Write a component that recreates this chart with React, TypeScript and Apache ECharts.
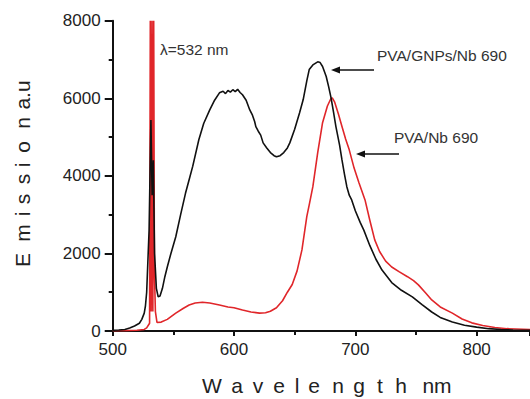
import React, { useEffect, useRef } from "react";
import * as echarts from "echarts";

// PVA/GNPs/Nb 690 (black)
const blackWl = [500, 505, 510, 514, 518, 522, 524, 526, 527, 528, 529, 530, 531.5, 532.5, 533.5, 534.5, 536, 537.5, 539, 541, 543, 545, 548, 552, 556, 560, 563, 566, 571, 575, 580, 584, 588, 591, 593, 595, 597, 599, 601, 603, 605, 607, 610, 613, 615, 617, 618, 620, 622, 624, 627, 630, 633, 635, 638, 641, 644, 646, 650, 654, 657, 660, 662, 665, 667, 669, 671, 673, 676, 678, 680, 682, 684, 687, 689, 691, 693, 695, 697, 700, 704, 707, 712, 717, 722, 730, 738, 747, 755, 763, 770, 780, 790, 800, 810, 820, 830, 844];
const blackVal = [20, 25, 40, 80, 130, 200, 300, 460, 650, 1000, 1800, 2600, 5440, 3500, 4400, 2000, 1100, 880, 900, 1100, 1400, 1650, 2000, 2430, 3000, 3550, 3900, 4250, 4930, 5350, 5700, 5950, 6140, 6180, 6120, 6200, 6160, 6220, 6170, 6230, 6150, 6090, 5950, 5700, 5580, 5400, 5270, 5150, 5050, 4850, 4720, 4600, 4520, 4490, 4520, 4600, 4720, 4850, 5200, 5620, 5960, 6450, 6740, 6860, 6900, 6940, 6920, 6820, 6560, 6300, 6010, 5650, 5270, 4800, 4410, 4050, 3720, 3500, 3380, 3100, 2800, 2600, 2200, 1850, 1570, 1250, 1050, 880, 680, 490, 350, 230, 150, 100, 60, 40, 25, 15];

// PVA/Nb 690 (red); the 532 nm laser line is saturated at the top of the scale
const redWl = [500, 510, 520, 526, 528, 530.4, 531.0, 531.7, 532.4, 533.1, 533.8, 534.4, 535.2, 536.5, 540, 545, 552, 558, 563, 568, 574, 580, 588, 595, 600, 607, 614, 621, 626, 630, 635, 640, 644, 648, 652, 656, 660, 662, 665, 669, 673, 677, 680, 681, 683, 686, 689, 692, 695, 699, 703, 708, 712, 716, 720, 725, 730, 736, 743, 748, 752, 758, 763, 770, 780, 788, 796, 805, 815, 825, 844];
const redVal = [5, 10, 20, 40, 80, 200, 8000, 500, 8000, 500, 8000, 1500, 500, 220, 230, 300, 460, 580, 670, 720, 740, 720, 670, 620, 600, 540, 490, 460, 470, 510, 600, 780, 1000, 1200, 1550, 2090, 2950, 3250, 3720, 4600, 5370, 5800, 6000, 6010, 5900, 5600, 5270, 4950, 4670, 4200, 3820, 3380, 2850, 2350, 2050, 1800, 1650, 1530, 1400, 1300, 1190, 980, 800, 620, 460, 310, 210, 140, 90, 60, 40];

const xTicks = [500, 600, 700, 800];
const yTicks = [0, 2000, 4000, 6000, 8000];

const xName = ["W", "a", "v", "e", "l", "e", "n", "g", "t", "h", "nm"];
const yName = ["E", "m", "i", "s", "s", "i", "o", "n", "a.u"];

const FONT = "'Liberation Sans', Arial, sans-serif";

export default function App() {
  const ref = useRef<HTMLDivElement>(null);
  useEffect(() => {
    if (!ref.current) return;
    const chart = echarts.init(ref.current, undefined, { renderer: "svg" });
    const zip = (a: number[], b: number[]) => a.map((v, i) => [v, b[i]]);
    const xNameX = [212, 237, 258, 279, 297, 314, 338, 359, 380, 401, 437];
    const yNameY = [260, 233, 214, 199, 179, 165, 147, 123, 95];
    const nameStyle = { fontSize: 21, fill: "#222", fontFamily: FONT, align: "center", verticalAlign: "middle" };
    chart.setOption({
      animation: false,
      backgroundColor: "#ffffff",
      grid: { left: 112.7, right: 0, top: 20.7, bottom: 68 },
      xAxis: {
        type: "value",
        min: xTicks[0],
        max: 844,
        interval: 100,
        axisLine: { show: true, onZero: false, lineStyle: { color: "#111", width: 2 } },
        axisTick: { show: true, inside: false, length: 5, lineStyle: { color: "#111", width: 2 } },
        minorTick: { show: true, splitNumber: 2, length: 4, lineStyle: { color: "#111", width: 2 } },
        splitLine: { show: false },
        axisLabel: {
          fontSize: 17,
          color: "#222",
          fontFamily: FONT,
          margin: 10,
          showMaxLabel: false,
          formatter: (v: number) => (xTicks.includes(v) ? String(v) : ""),
        },
      },
      yAxis: {
        type: "value",
        min: yTicks[0],
        max: yTicks[yTicks.length - 1],
        interval: 2000,
        axisLine: { show: true, lineStyle: { color: "#111", width: 2 } },
        axisTick: { show: true, inside: false, length: 8, lineStyle: { color: "#111", width: 2 } },
        minorTick: { show: true, splitNumber: 2, length: 4, lineStyle: { color: "#111", width: 2 } },
        splitLine: { show: false },
        axisLabel: { fontSize: 17, color: "#222", fontFamily: FONT, margin: 12, formatter: (v: number) => String(v) },
      },
      series: [
        {
          name: "PVA/Nb 690",
          type: "line",
          data: zip(redWl, redVal),
          showSymbol: false,
          lineStyle: { color: "#e0262a", width: 1.6 },
          z: 2,
        },
        {
          name: "PVA/GNPs/Nb 690",
          type: "line",
          data: zip(blackWl, blackVal),
          showSymbol: false,
          lineStyle: { color: "#111111", width: 1.6 },
          z: 3,
        },
      ],
      graphic: [
        { type: "text", x: 160, y: 49, style: { text: "λ=532 nm", fontSize: 15.5, fill: "#333", fontFamily: FONT, verticalAlign: "middle" } },
        { type: "text", x: 377, y: 55, style: { text: "PVA/GNPs/Nb 690", fontSize: 15.5, fill: "#333", fontFamily: FONT, verticalAlign: "middle" } },
        { type: "line", shape: { x1: 336, y1: 70, x2: 374, y2: 70 }, style: { stroke: "#111", lineWidth: 1.6 } },
        { type: "polygon", shape: { points: [[331, 70], [340, 66.5], [340, 73.5]] }, style: { fill: "#111" } },
        { type: "text", x: 394, y: 137, style: { text: "PVA/Nb 690", fontSize: 15.5, fill: "#333", fontFamily: FONT, verticalAlign: "middle" } },
        { type: "line", shape: { x1: 361, y1: 154, x2: 399, y2: 154 }, style: { stroke: "#111", lineWidth: 1.6 } },
        { type: "polygon", shape: { points: [[356, 154], [365, 150.5], [365, 157.5]] }, style: { fill: "#111" } },
        ...yName.map((t, i) => ({
          type: "text", x: 22, y: yNameY[i], rotation: Math.PI / 2,
          style: { ...nameStyle, text: t },
        })),
        ...xName.map((t, i) => ({
          type: "text", x: xNameX[i], y: 385,
          style: { ...nameStyle, text: t },
        })),
      ],
    });
    return () => chart.dispose();
  }, []);
  return <div ref={ref} style={{ position: "fixed", left: 0, top: 0, width: 530, height: 399 }} />;
}
